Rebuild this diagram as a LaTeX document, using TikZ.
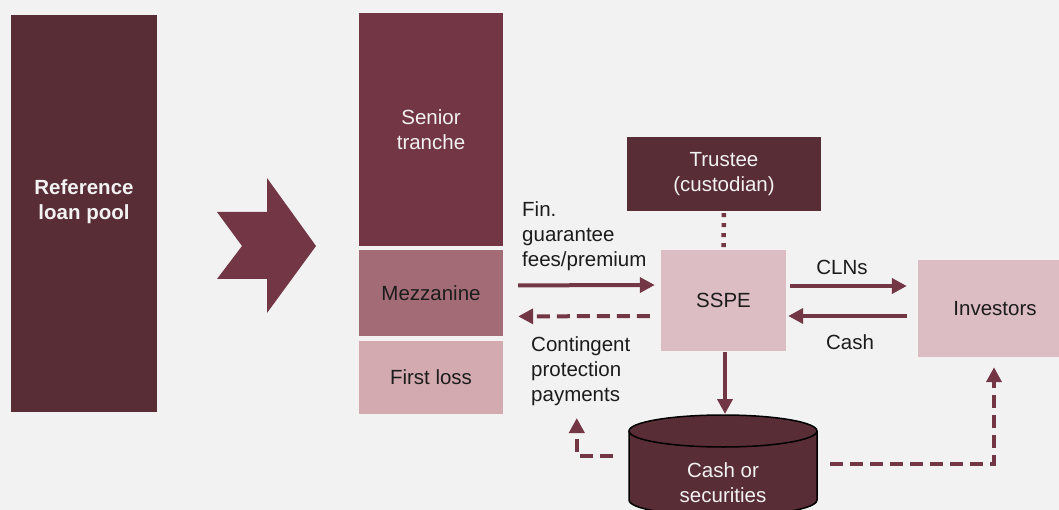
\documentclass[tikz,border=0pt]{standalone}
\usepackage{fontspec}
\setmainfont{Liberation Sans}
\definecolor{SecDark}{RGB}{88,45,54}
\definecolor{SecRed}{RGB}{115,54,69}
\definecolor{SecRose}{RGB}{163,107,118}
\definecolor{SecPink}{RGB}{212,170,177}
\definecolor{SecLight}{RGB}{219,189,195}
\definecolor{SecBg}{RGB}{242,242,242}
\definecolor{SecInk}{RGB}{28,28,28}
\usepackage{tikz}
\usetikzlibrary{
    arrows.meta,
    positioning,
    calc,
}
\tikzset{
    block/.style={inner sep=0pt, align=center, font=\fontsize{20.5}{25}\selectfont},
    darkblock/.style={block, fill=SecDark, text=SecBg},
    lightblock/.style={block, fill=SecLight, text=SecInk},
    flowtext/.style={inner sep=0pt, align=left, text=SecInk, font=\fontsize{20.5}{25}\selectfont},
    flow/.style={SecRed, line width=4pt, -{Triangle[length=15pt,width=15pt]}},
    dashflow/.style={flow, dash pattern=on 13pt off 7pt},
}

\begin{document}
\begin{tikzpicture}[x=1pt, y=-1pt]
        \clip (0,0) rectangle (1059,510);
        \fill[SecBg] (0,0) rectangle (1059,510);
        % pool and tranches
        \node[darkblock, minimum width=146pt, minimum height=397pt] (pool) at (84,213.5) {};
        \node[block, text=SecBg, font=\fontsize{20.5}{25}\selectfont\bfseries] (pooltext) at ([yshift=12pt]pool.center) {Reference\\loan pool};
        \fill[SecRed] (217,212) -- (267,212) -- (267,178) -- (316,246) -- (267,313) -- (267,279) -- (217,279) -- (242,246) -- cycle;
        \node[block, fill=SecRed, text=SecBg, minimum width=144pt, minimum height=233pt] (senior) at (431,129.5) {Senior\\tranche};
        \node[block, fill=SecRose, text=SecInk, minimum width=144pt, minimum height=86pt, below=4pt of senior] (mezz) {Mezzanine};
        \node[block, fill=SecPink, text=SecInk, minimum width=144pt, minimum height=73pt, below=4pt of mezz] (loss) {First loss};
        % vehicle, trustee, investors
        \node[darkblock, minimum width=194pt, minimum height=74pt] (trustee) at (724,174) {Trustee\\(custodian)};
        \node[lightblock, minimum width=125pt, minimum height=101pt] (sspe) at (723.5,300.5) {SSPE};
        \node[lightblock, minimum width=154pt, minimum height=97pt] (inv) at (995,308.5) {Investors};
        % cash or securities store
        \fill[SecDark] (629,431) -- (629,500) arc[start angle=180, end angle=360, x radius=94pt, y radius=16pt] -- (817,431) -- cycle;
        \draw[black, line width=1.5pt] (629,431) -- (629,500) arc[start angle=180, end angle=360, x radius=94pt, y radius=16pt] -- (817,431);
        \draw[black, fill=SecDark, line width=1.5pt] (723,431) ellipse[x radius=94pt, y radius=16pt];
        \node[inner sep=0pt, minimum width=188pt, minimum height=69pt] (store) at (723,465.5) {};
        \coordinate (storetop) at (723,415);
        \node[block, text=SecBg] (storetext) at (723,483) {Cash or\\securities};
        % labels
        \node[flowtext, anchor=west] (fintext) at (522,236) {Fin.\\guarantee\\fees/premium};
        \node[flowtext, anchor=west] (conttext) at (531,371) {Contingent\\protection\\payments};
        \node[flowtext] (clntext) at (842,267) {CLNs};
        \node[flowtext] (cashtext) at (850,342) {Cash};
        % flows
        \draw[flow] ($(mezz.east)+(15,-8)$) -- ($(sspe.west)+(-6,-15.5)$);
        \draw[dashflow] ($(sspe.west)+(-11,15.5)$) -- ($(mezz.east)+(15,23)$);
        \draw[flow] ($(sspe.east)+(4,-14.5)$) -- ($(inv.west)+(-11,-22.5)$);
        \draw[flow] ($(inv.west)+(-11,7.5)$) -- ($(sspe.east)+(2,15.5)$);
        \draw[flow] ($(sspe.south)+(1.5,1)$) -- ($(storetop)+(2,-1)$);
        \draw[SecRed, line width=4.5pt, dash pattern=on 4pt off 6pt, shorten <=2pt, shorten >=2pt] (trustee.south) -- (sspe.north);
        \draw[dashflow] ($(store.east)+(13,-1.5)$) -| ($(inv.south)+(-1,10)$);
        \draw[dashflow] ($(store.west)+(-16,-9.5)$) -| ($(store.west)+(-52,-47.5)$);
    \end{tikzpicture}
\end{document}
